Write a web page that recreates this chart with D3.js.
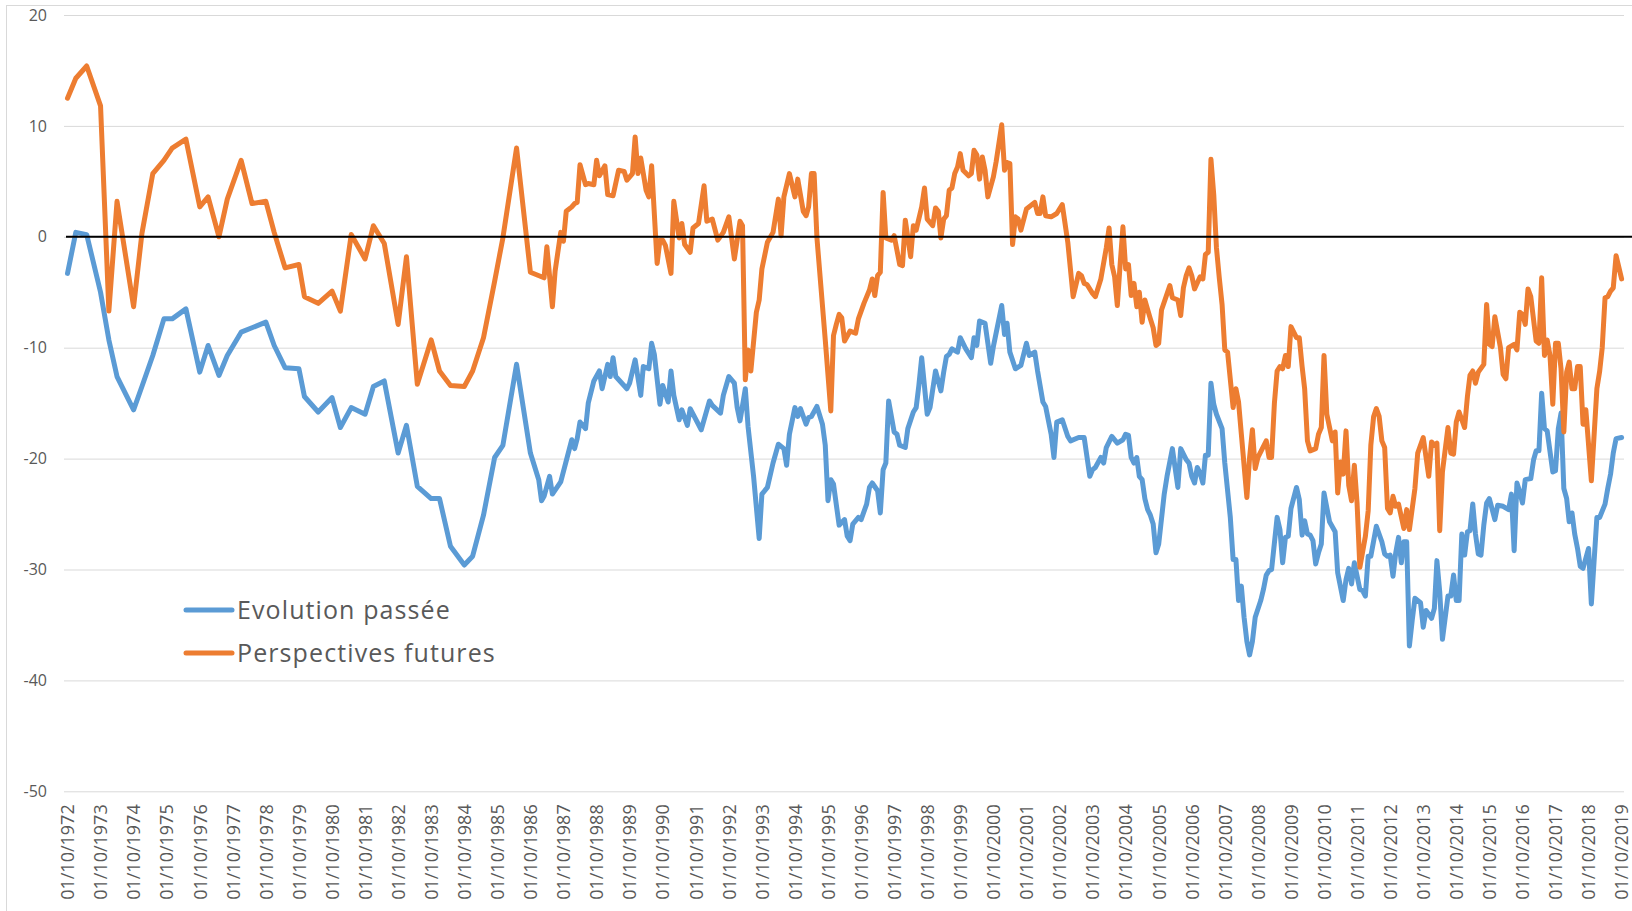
<!DOCTYPE html>
<html>
<head>
<meta charset="utf-8">
<script src="https://cdnjs.cloudflare.com/ajax/libs/d3/7.8.5/d3.min.js"></script>
<style>
  body { margin: 0; background: #fff; }
  svg text { font-family: "Open Sans", sans-serif; fill: #595959; }
</style>
</head>
<body>
<svg id="chart"></svg>
<script>

var yTicks = [20, 10, 0, -10, -20, -30, -40, -50];
var labelYears = d3.range(1972, 2020);

var seriesNames = ["Evolution passée", "Perspectives futures"];
var seriesColors = ["#5b9bd5", "#ed7d31"];

// solde d'opinion, evolution passee
var evolutionPassee = [
    ["1972-10",-3.3],["1973-01",0.4],["1973-05",0.2],["1973-10",-5.0],["1974-01",-9.3],["1974-04",-12.6],["1974-10",-15.6],
    ["1975-01",-13.5],["1975-05",-10.7],["1975-09",-7.4],["1975-12",-7.4],["1976-05",-6.5],["1976-10",-12.2],["1977-01",-9.8],
    ["1977-05",-12.5],["1977-08",-10.7],["1978-01",-8.6],["1978-05",-8.2],["1978-10",-7.7],["1979-01",-9.8],["1979-05",-11.8],
    ["1979-10",-11.9],["1979-12",-14.4],["1980-05",-15.8],["1980-10",-14.5],["1981-01",-17.2],["1981-05",-15.4],["1981-10",-16.0],
    ["1982-01",-13.5],["1982-05",-13.0],["1982-10",-19.5],["1983-01",-17.0],["1983-05",-22.5],["1983-10",-23.6],["1984-01",-23.6],
    ["1984-05",-27.9],["1984-10",-29.6],["1985-01",-28.8],["1985-05",-25.1],["1985-09",-19.9],["1985-12",-18.8],["1986-05",-11.5],
    ["1986-10",-19.5],["1987-01",-21.9],["1987-02",-23.8],["1987-03",-23.4],["1987-05",-21.6],["1987-06",-23.2],["1987-09",-22.1],
    ["1988-01",-18.3],["1988-02",-19.1],["1988-03",-18.2],["1988-04",-16.7],["1988-06",-17.3],["1988-07",-15.0],["1988-09",-13.0],
    ["1988-11",-12.1],["1988-12",-13.7],["1989-02",-11.5],["1989-03",-12.6],["1989-04",-10.9],["1989-05",-12.6],["1989-09",-13.7],
    ["1989-10",-13.2],["1989-12",-11.1],["1990-02",-14.3],["1990-03",-11.7],["1990-05",-11.9],["1990-06",-9.6],["1990-07",-10.6],
    ["1990-09",-15.1],["1990-10",-13.4],["1990-12",-14.9],["1991-01",-12.1],["1991-02",-14.3],["1991-04",-16.5],["1991-05",-15.6],
    ["1991-07",-17.0],["1991-08",-15.5],["1991-12",-17.4],["1992-03",-14.8],["1992-04",-15.2],["1992-07",-15.9],["1992-08",-14.3],
    ["1992-10",-12.6],["1992-12",-13.2],["1993-01",-15.4],["1993-02",-16.6],["1993-04",-13.7],["1993-05",-17.1],["1993-07",-21.6],
    ["1993-09",-27.2],["1993-10",-23.2],["1993-12",-22.6],["1994-02",-20.4],["1994-04",-18.7],["1994-06",-19.1],["1994-07",-20.6],
    ["1994-08",-17.8],["1994-10",-15.4],["1994-11",-16.2],["1994-12",-15.5],["1995-02",-16.9],["1995-03",-16.3],["1995-04",-16.2],
    ["1995-06",-15.3],["1995-08",-16.9],["1995-09",-18.8],["1995-10",-23.8],["1995-11",-21.9],["1995-12",-22.3],["1996-02",-26.0],
    ["1996-04",-25.5],["1996-05",-27.0],["1996-06",-27.4],["1996-07",-25.9],["1996-09",-25.3],["1996-10",-25.5],["1996-12",-24.1],
    ["1997-01",-22.6],["1997-02",-22.2],["1997-04",-22.9],["1997-05",-24.9],["1997-06",-21.0],["1997-07",-20.4],["1997-08",-14.8],
    ["1997-10",-17.6],["1997-11",-17.8],["1997-12",-18.8],["1998-02",-19.0],["1998-03",-17.3],["1998-05",-15.8],["1998-06",-15.4],
    ["1998-07",-13.4],["1998-08",-10.9],["1998-10",-16.0],["1998-11",-15.4],["1999-01",-12.1],["1999-03",-13.9],["1999-04",-12.2],
    ["1999-05",-10.8],["1999-06",-10.6],["1999-07",-10.1],["1999-09",-10.4],["1999-10",-9.1],["1999-12",-10.1],["2000-02",-10.9],
    ["2000-03",-9.1],["2000-04",-9.8],["2000-05",-7.6],["2000-07",-7.8],["2000-09",-11.4],["2000-10",-9.9],["2001-01",-6.2],
    ["2001-02",-8.8],["2001-03",-7.8],["2001-04",-10.4],["2001-06",-11.9],["2001-08",-11.6],["2001-10",-9.6],["2001-11",-10.7],
    ["2002-01",-10.4],["2002-02",-12.1],["2002-04",-14.9],["2002-05",-15.3],["2002-07",-17.8],["2002-08",-19.9],["2002-09",-16.7],
    ["2002-11",-16.5],["2003-01",-18.0],["2003-02",-18.4],["2003-05",-18.1],["2003-07",-18.1],["2003-09",-21.6],["2003-10",-21.0],
    ["2003-11",-20.8],["2004-01",-19.9],["2004-02",-20.4],["2004-03",-19.0],["2004-04",-18.5],["2004-05",-18.0],["2004-07",-18.6],
    ["2004-09",-18.3],["2004-10",-17.8],["2004-11",-17.9],["2004-12",-19.9],["2005-01",-20.4],["2005-02",-19.9],["2005-03",-21.6],
    ["2005-04",-21.9],["2005-05",-23.6],["2005-06",-24.6],["2005-07",-25.1],["2005-08",-25.9],["2005-09",-28.5],["2005-10",-27.7],
    ["2005-12",-23.2],["2006-01",-21.6],["2006-03",-19.1],["2006-05",-22.6],["2006-06",-19.1],["2006-08",-20.1],["2006-09",-20.4],
    ["2006-10",-21.6],["2006-11",-22.2],["2006-12",-20.8],["2007-01",-21.3],["2007-02",-22.2],["2007-03",-19.7],["2007-04",-19.7],
    ["2007-05",-13.2],["2007-06",-15.1],["2007-07",-16.0],["2007-09",-17.3],["2007-10",-20.4],["2007-12",-25.3],["2008-01",-29.1],
    ["2008-02",-29.1],["2008-03",-32.8],["2008-04",-31.5],["2008-05",-34.3],["2008-06",-36.5],["2008-07",-37.7],["2008-08",-36.5],
    ["2008-09",-34.3],["2008-11",-32.8],["2008-12",-31.8],["2009-01",-30.5],["2009-02",-30.1],["2009-03",-30.0],["2009-05",-25.3],
    ["2009-06",-26.4],["2009-07",-29.4],["2009-08",-27.1],["2009-09",-27.0],["2009-10",-24.5],["2009-12",-22.6],["2010-01",-23.7],
    ["2010-02",-26.9],["2010-03",-25.6],["2010-04",-26.8],["2010-05",-26.9],["2010-06",-27.4],["2010-07",-29.5],["2010-08",-28.5],
    ["2010-09",-27.7],["2010-10",-23.1],["2010-12",-25.7],["2011-02",-26.6],["2011-03",-30.3],["2011-05",-32.8],["2011-06",-30.9],
    ["2011-07",-29.9],["2011-08",-31.3],["2011-09",-29.4],["2011-11",-31.8],["2011-12",-31.9],["2012-01",-32.4],["2012-02",-28.8],
    ["2012-03",-28.8],["2012-05",-26.1],["2012-07",-27.5],["2012-08",-28.6],["2012-09",-28.8],["2012-10",-28.7],["2012-11",-30.6],
    ["2012-12",-28.5],["2013-01",-27.1],["2013-02",-29.4],["2013-03",-27.5],["2013-04",-27.5],["2013-05",-36.9],["2013-06",-34.6],
    ["2013-07",-32.6],["2013-09",-33.0],["2013-10",-35.2],["2013-11",-33.7],["2014-01",-34.4],["2014-02",-33.5],["2014-03",-29.2],
    ["2014-04",-32.0],["2014-05",-36.3],["2014-07",-32.4],["2014-08",-32.4],["2014-09",-30.5],["2014-10",-32.8],["2014-11",-32.8],
    ["2014-12",-26.8],["2015-01",-28.7],["2015-02",-26.6],["2015-03",-26.5],["2015-04",-24.1],["2015-05",-26.8],["2015-06",-28.6],
    ["2015-07",-28.7],["2015-08",-26.0],["2015-09",-24.0],["2015-10",-23.6],["2015-12",-25.5],["2016-01",-24.2],["2016-03",-24.3],
    ["2016-05",-24.6],["2016-06",-23.2],["2016-07",-28.3],["2016-08",-22.2],["2016-09",-23.0],["2016-10",-24.0],["2016-11",-21.9],
    ["2017-01",-21.8],["2017-02",-20.1],["2017-03",-19.3],["2017-04",-19.3],["2017-05",-14.1],["2017-06",-17.3],["2017-07",-17.5],
    ["2017-09",-21.2],["2017-10",-21.1],["2017-11",-17.3],["2017-12",-15.9],["2018-01",-22.7],["2018-02",-23.6],["2018-03",-25.7],
    ["2018-04",-24.9],["2018-05",-26.8],["2018-06",-28.1],["2018-07",-29.7],["2018-08",-29.9],["2018-10",-28.1],["2018-11",-33.1],
    ["2019-01",-25.3],["2019-02",-25.3],["2019-04",-24.1],["2019-05",-22.7],["2019-06",-21.4],["2019-07",-19.5],["2019-08",-18.2],
    ["2019-10",-18.1]
];

// solde d'opinion, perspectives futures
var perspectivesFutures = [
    ["1972-10",12.5],["1973-01",14.3],["1973-05",15.4],["1973-10",11.8],["1974-01",-6.7],["1974-04",3.2],["1974-10",-6.3],
    ["1975-01",0.3],["1975-05",5.7],["1975-09",6.9],["1975-12",8.0],["1976-05",8.8],["1976-10",2.7],["1977-01",3.6],
    ["1977-05",0.0],["1977-08",3.4],["1978-01",6.9],["1978-05",3.0],["1978-10",3.2],["1979-01",0.4],["1979-05",-2.8],
    ["1979-10",-2.5],["1979-12",-5.4],["1980-05",-6.0],["1980-10",-4.9],["1981-01",-6.7],["1981-05",0.2],["1981-10",-2.0],
    ["1982-01",1.0],["1982-05",-0.6],["1982-10",-7.9],["1983-01",-1.8],["1983-05",-13.3],["1983-10",-9.3],["1984-01",-12.1],
    ["1984-05",-13.4],["1984-10",-13.5],["1985-01",-12.1],["1985-05",-9.1],["1985-09",-4.0],["1985-12",-0.1],["1986-05",8.0],
    ["1986-10",-3.2],["1987-02",-3.6],["1987-03",-3.7],["1987-04",-0.9],["1987-06",-6.3],["1987-07",-3.1],["1987-09",0.4],
    ["1987-10",-0.4],["1987-11",2.3],["1988-01",2.7],["1988-02",3.0],["1988-03",3.1],["1988-04",6.5],["1988-06",4.7],
    ["1988-07",4.8],["1988-09",4.7],["1988-10",6.9],["1988-11",5.5],["1989-01",6.4],["1989-02",3.8],["1989-04",3.7],
    ["1989-06",6.0],["1989-08",5.9],["1989-09",5.1],["1989-11",5.7],["1989-12",9.0],["1990-01",5.7],["1990-02",7.1],
    ["1990-04",4.2],["1990-05",3.6],["1990-06",6.4],["1990-08",-2.4],["1990-09",-0.3],["1990-10",-0.3],["1990-11",-0.8],
    ["1991-01",-3.3],["1991-02",3.2],["1991-04",-0.1],["1991-05",1.2],["1991-06",-0.7],["1991-08",-1.4],["1991-09",0.8],
    ["1991-11",1.2],["1992-01",4.6],["1992-02",1.4],["1992-04",1.6],["1992-06",-0.3],["1992-08",0.4],["1992-10",1.8],
    ["1992-12",-2.0],["1993-02",1.4],["1993-03",1.0],["1993-04",-12.9],["1993-05",-10.2],["1993-06",-12.1],["1993-08",-6.8],
    ["1993-09",-5.7],["1993-10",-2.9],["1993-12",-0.5],["1994-02",0.4],["1994-04",3.4],["1994-05",0.1],["1994-06",3.6],
    ["1994-08",5.7],["1994-10",3.6],["1994-11",5.2],["1995-01",2.3],["1995-02",1.9],["1995-03",2.7],["1995-04",5.7],
    ["1995-05",5.7],["1995-06",-0.1],["1995-09",-9.3],["1995-11",-15.7],["1995-12",-8.9],["1996-01",-7.9],["1996-02",-7.0],
    ["1996-03",-7.3],["1996-04",-9.4],["1996-06",-8.5],["1996-08",-8.7],["1996-09",-7.4],["1996-11",-6.0],["1997-01",-4.8],
    ["1997-02",-3.8],["1997-03",-5.3],["1997-04",-3.5],["1997-05",-3.2],["1997-06",4.0],["1997-07",-0.1],["1997-09",-0.3],
    ["1997-10",0.1],["1997-12",-2.5],["1998-01",-2.6],["1998-02",1.5],["1998-04",-1.8],["1998-05",1.0],["1998-06",0.6],
    ["1998-08",2.7],["1998-09",4.4],["1998-10",1.6],["1998-12",1.0],["1999-01",2.6],["1999-02",2.3],["1999-03",-0.1],
    ["1999-04",1.6],["1999-05",1.9],["1999-06",4.2],["1999-07",4.4],["1999-08",5.7],["1999-09",6.3],["1999-10",7.5],
    ["1999-11",6.0],["2000-01",5.5],["2000-02",5.7],["2000-03",7.8],["2000-04",7.4],["2000-05",5.2],["2000-06",7.2],
    ["2000-07",6.0],["2000-08",3.6],["2000-10",5.4],["2000-11",6.8],["2001-01",10.1],["2001-02",6.0],["2001-03",6.7],
    ["2001-04",6.6],["2001-05",-0.7],["2001-06",1.8],["2001-07",1.6],["2001-08",0.6],["2001-10",2.5],["2002-01",3.1],
    ["2002-02",2.1],["2002-03",2.1],["2002-04",3.6],["2002-05",1.9],["2002-07",1.8],["2002-09",2.1],["2002-11",2.9],
    ["2003-01",-0.5],["2003-03",-5.4],["2003-05",-3.3],["2003-06",-3.5],["2003-07",-4.2],["2003-08",-4.3],["2003-10",-5.1],
    ["2003-11",-5.4],["2004-01",-3.8],["2004-03",-1.0],["2004-04",0.8],["2004-05",-2.5],["2004-06",-3.6],["2004-07",-6.2],
    ["2004-08",-2.5],["2004-09",0.9],["2004-10",-2.9],["2004-11",-2.5],["2004-12",-5.3],["2005-01",-4.2],["2005-02",-6.3],
    ["2005-03",-5.0],["2005-04",-7.7],["2005-05",-5.7],["2005-07",-7.4],["2005-08",-8.2],["2005-09",-9.8],["2005-10",-9.6],
    ["2005-11",-6.6],["2006-02",-4.4],["2006-03",-5.5],["2006-05",-5.7],["2006-06",-7.1],["2006-07",-4.6],["2006-08",-3.5],
    ["2006-09",-2.8],["2006-10",-3.5],["2006-11",-4.7],["2007-01",-3.6],["2007-02",-3.8],["2007-03",-1.6],["2007-04",-1.4],
    ["2007-05",7.0],["2007-06",3.8],["2007-07",-1.0],["2007-08",-3.7],["2007-09",-6.1],["2007-10",-10.2],["2007-11",-10.4],
    ["2008-01",-15.4],["2008-02",-13.7],["2008-03",-14.9],["2008-04",-17.8],["2008-06",-23.5],["2008-07",-19.9],["2008-08",-17.4],
    ["2008-09",-20.9],["2008-10",-19.9],["2009-01",-18.4],["2009-02",-19.9],["2009-03",-19.9],["2009-04",-15.0],["2009-05",-12.1],
    ["2009-06",-11.7],["2009-07",-11.9],["2009-08",-10.7],["2009-09",-11.7],["2009-10",-8.1],["2009-12",-9.1],["2010-01",-9.1],
    ["2010-02",-11.7],["2010-03",-13.7],["2010-04",-18.4],["2010-05",-19.3],["2010-07",-19.1],["2010-08",-17.8],["2010-09",-17.2],
    ["2010-10",-10.7],["2010-11",-16.0],["2011-01",-18.4],["2011-02",-17.6],["2011-03",-23.1],["2011-04",-20.3],["2011-05",-21.4],
    ["2011-06",-17.5],["2011-07",-22.4],["2011-08",-23.8],["2011-09",-20.6],["2011-10",-24.0],["2011-11",-29.8],["2012-01",-27.0],
    ["2012-02",-24.7],["2012-03",-18.8],["2012-04",-16.2],["2012-05",-15.5],["2012-06",-16.2],["2012-07",-18.4],["2012-08",-19.0],
    ["2012-09",-24.5],["2012-10",-24.9],["2012-11",-23.4],["2012-12",-24.3],["2013-01",-24.1],["2013-03",-26.3],["2013-04",-24.6],
    ["2013-05",-26.4],["2013-07",-22.7],["2013-08",-19.5],["2013-10",-18.1],["2013-12",-21.6],["2014-01",-18.5],["2014-02",-18.8],
    ["2014-03",-18.6],["2014-04",-26.5],["2014-05",-21.2],["2014-07",-17.2],["2014-08",-19.5],["2014-09",-19.6],["2014-10",-16.7],
    ["2014-11",-15.8],["2015-01",-17.2],["2015-02",-14.4],["2015-03",-12.5],["2015-04",-12.1],["2015-05",-13.2],["2015-06",-12.2],
    ["2015-08",-11.5],["2015-09",-6.1],["2015-10",-9.7],["2015-11",-9.9],["2015-12",-7.2],["2016-02",-10.0],["2016-03",-12.4],
    ["2016-04",-12.8],["2016-05",-10.0],["2016-07",-9.7],["2016-08",-10.2],["2016-09",-6.8],["2016-10",-7.0],["2016-11",-7.9],
    ["2016-12",-4.7],["2017-01",-5.4],["2017-03",-9.4],["2017-04",-9.6],["2017-05",-3.7],["2017-06",-10.7],["2017-07",-9.3],
    ["2017-08",-10.7],["2017-09",-15.1],["2017-10",-9.6],["2017-11",-9.6],["2017-12",-11.9],["2018-01",-17.6],["2018-02",-12.2],
    ["2018-03",-11.3],["2018-04",-13.7],["2018-05",-13.7],["2018-06",-11.7],["2018-07",-11.7],["2018-08",-16.9],["2018-09",-15.6],
    ["2018-11",-22.0],["2019-01",-13.7],["2019-02",-12.1],["2019-03",-10.0],["2019-04",-5.5],["2019-05",-5.4],["2019-06",-4.9],
    ["2019-07",-4.6],["2019-08",-1.7],["2019-10",-3.8]
];

var width = 1632,
    height = 911,
    plotLeft = 64,
    plotRight = 1624;

var parseMonth = d3.timeParse("%Y-%m");

var svg = d3.select("#chart")
    .attr("width", width)
    .attr("height", height);

// cadre du graphique (seuls les bords haut et gauche sont visibles)
svg.append("rect")
    .attr("x", 6.5)
    .attr("y", 5.5)
    .attr("width", 1700)
    .attr("height", 1000)
    .attr("fill", "none")
    .attr("stroke", "#d9d9d9");

var x = d3.scaleTime()
    .domain([new Date(1972, 9, 1), new Date(2019, 9, 1)])
    .range([67.5, 1621.6]);

var y = d3.scaleLinear()
    .domain([-50, 20])
    .range([791.3, 15]);

// grille + graduations verticales
var yAxis = svg.append("g")
    .attr("transform", "translate(" + plotLeft + ",0)")
    .call(d3.axisLeft(y)
        .tickValues(yTicks)
        .tickFormat(function (d) { return String(d); })
        .tickSize(-(plotRight - plotLeft))
        .tickPadding(17));
yAxis.select(".domain").remove();
yAxis.selectAll(".tick line").attr("stroke", "#d9d9d9");
yAxis.selectAll(".tick text")
    .style("font-size", "16px")
    .attr("fill", "#595959");

// dates en bas, texte vertical
var xAxis = svg.append("g")
    .attr("transform", "translate(0," + y(-50) + ")")
    .call(d3.axisBottom(x)
        .tickValues(labelYears.map(function (yr) { return new Date(yr, 9, 1); }))
        .tickFormat(d3.timeFormat("%d/%m/%Y"))
        .tickSize(0));
xAxis.select(".domain").remove();
xAxis.selectAll(".tick text")
    .attr("transform", "rotate(-90)")
    .attr("x", -13)
    .attr("y", 0)
    .attr("dy", "0.35em")
    .style("text-anchor", "end")
    .style("font-size", "18px")
    .attr("fill", "#595959");

var line = d3.line()
    .x(function (d) { return x(parseMonth(d[0])); })
    .y(function (d) { return y(d[1]); });

[evolutionPassee, perspectivesFutures].forEach(function (serie, i) {
    svg.append("path")
        .datum(serie)
        .attr("fill", "none")
        .attr("stroke", seriesColors[i])
        .attr("stroke-width", 5)
        .attr("stroke-linejoin", "round")
        .attr("stroke-linecap", "round")
        .attr("d", line);
});

// ligne du zero
svg.append("line")
    .attr("x1", 66)
    .attr("x2", width)
    .attr("y1", y(0))
    .attr("y2", y(0))
    .attr("stroke", "#000")
    .attr("stroke-width", 2);

var legend = svg.append("g");
seriesNames.forEach(function (name, i) {
    var ly = 610 + i * 43;
    legend.append("line")
        .attr("x1", 186)
        .attr("x2", 232)
        .attr("y1", ly)
        .attr("y2", ly)
        .attr("stroke", seriesColors[i])
        .attr("stroke-width", 5)
        .attr("stroke-linecap", "round");
    legend.append("text")
        .attr("x", 237)
        .attr("y", ly)
        .attr("dy", "0.35em")
        .style("font-size", "25px")
        .style("letter-spacing", "1.1px")
        .text(name);
});

</script>
</body>
</html>
